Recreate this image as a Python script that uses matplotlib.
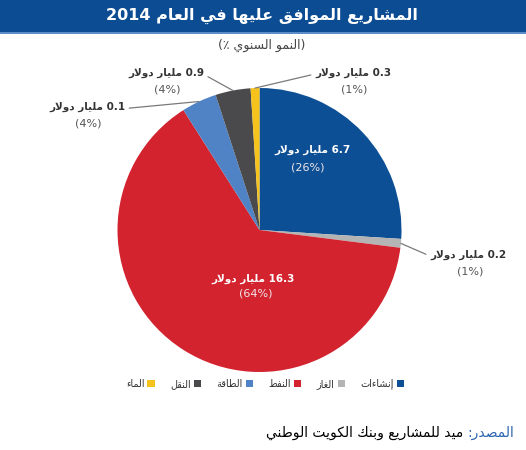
import re
import numpy as np
import matplotlib
matplotlib.use('Agg')
import matplotlib.pyplot as plt
from matplotlib.patches import Patch, Rectangle

# ---- data ----
sectors = ['إنشاءات', 'الغاز', 'النفط', 'الطاقة', 'النقل', 'الماء']
value_bn = ['6.7', '0.2', '16.3', '0.1', '0.9', '0.3']
share_pct = [26, 1, 64, 4, 4, 1]
colors = ['#0d4f94', '#b4b4b4', '#d2232f', '#4f83c6', '#4a4a4c', '#f6c21c']

title = 'المشاريع الموافق عليها في العام 2014'
subtitle = '(النمو السنوي ٪)'
unit = 'مليار دولار'
source_head = 'المصدر:'
source_body = 'ميد للمشاريع وبنك الكويت الوطني'

# ---- minimal arabic shaping + rtl ordering (matplotlib does no shaping) ----
AR_FORMS = {
    'ء': (0xFE80, 1), 'آ': (0xFE81, 2), 'أ': (0xFE83, 2), 'ؤ': (0xFE85, 2),
    'إ': (0xFE87, 2), 'ئ': (0xFE89, 4), 'ا': (0xFE8D, 2), 'ب': (0xFE8F, 4),
    'ة': (0xFE93, 2), 'ت': (0xFE95, 4), 'ث': (0xFE99, 4), 'ج': (0xFE9D, 4),
    'ح': (0xFEA1, 4), 'خ': (0xFEA5, 4), 'د': (0xFEA9, 2), 'ذ': (0xFEAB, 2),
    'ر': (0xFEAD, 2), 'ز': (0xFEAF, 2), 'س': (0xFEB1, 4), 'ش': (0xFEB5, 4),
    'ص': (0xFEB9, 4), 'ض': (0xFEBD, 4), 'ط': (0xFEC1, 4), 'ظ': (0xFEC5, 4),
    'ع': (0xFEC9, 4), 'غ': (0xFECD, 4), 'ف': (0xFED1, 4), 'ق': (0xFED5, 4),
    'ك': (0xFED9, 4), 'ل': (0xFEDD, 4), 'م': (0xFEE1, 4), 'ن': (0xFEE5, 4),
    'ه': (0xFEE9, 4), 'و': (0xFEED, 2), 'ى': (0xFEEF, 2), 'ي': (0xFEF1, 4),
}
LAM_ALEF = {'ا': 0xFEFB, 'أ': 0xFEF7, 'إ': 0xFEF9, 'آ': 0xFEF5}


def shape(s):
    items = []
    i = 0
    while i < len(s):
        if s[i] == 'ل' and i + 1 < len(s) and s[i + 1] in LAM_ALEF:
            items.append(('LA', s[i + 1]))
            i += 2
        else:
            items.append(('C', s[i]))
            i += 1

    def joins_next(it):
        return it[0] == 'C' and it[1] in AR_FORMS and AR_FORMS[it[1]][1] == 4

    def is_ar(it):
        return it[0] == 'LA' or (it[1] in AR_FORMS and AR_FORMS[it[1]][1] > 1)

    out = []
    for k, it in enumerate(items):
        pj = k > 0 and joins_next(items[k - 1]) and is_ar(it)
        nj = k + 1 < len(items) and joins_next(it) and is_ar(items[k + 1])
        if it[0] == 'LA':
            out.append(chr(LAM_ALEF[it[1]] + pj))
        elif it[1] in AR_FORMS:
            base, nf = AR_FORMS[it[1]]
            if nf == 1:
                off = 0
            elif nf == 2:
                off = 1 if pj else 0
            else:
                off = 3 if (pj and nj) else 1 if pj else 2 if nj else 0
            out.append(chr(base + off))
        else:
            out.append(it[1])
    return ''.join(out)


def rtl(s):
    s = shape(s)
    runs = re.findall(r'[0-9A-Za-z.,%]+|[^0-9A-Za-z.,%]+', s)
    mirror = {'(': ')', ')': '('}
    out = []
    for r in reversed(runs):
        if re.match(r'[0-9A-Za-z]', r):
            out.append(r)
        else:
            out.append(''.join(mirror.get(c, c) for c in reversed(r)))
    return ''.join(out)


plt.rcParams['font.family'] = ['DejaVu Sans']

W, H = 526, 450
fig = plt.figure(figsize=(W / 100, H / 100), dpi=100)
ax = fig.add_axes([0, 0, 1, 1])

def Y(y):
    return H - y

# title banner
ax.add_patch(Rectangle((0, Y(32)), W, 32, color='#0b4c92', lw=0))
ax.add_patch(Rectangle((0, Y(33.5)), W, 1.5, color='#5b8cc6', lw=0))
ax.text(262, Y(16), rtl(title), color='white', fontsize=11.5, fontweight='bold',
        ha='center', va='center')
ax.text(262, Y(45), rtl(subtitle), color='#444444', fontsize=9,
        ha='center', va='center')

# pie
cx, cy, R = 259.5, Y(230), 142
wedges, _ = ax.pie(share_pct, colors=colors, startangle=90, counterclock=False,
                   center=(cx, cy), radius=R, wedgeprops=dict(linewidth=0))
ax.set_xlim(0, W)
ax.set_ylim(0, H)
ax.set_aspect('equal')
ax.axis('off')

# inside labels (construction, oil)
inside = {0: (313, 150, 308, 167), 2: (253, 279, 256, 294)}
for i, (x1, y1, x2, y2) in inside.items():
    ax.text(x1, Y(y1), rtl(value_bn[i] + ' ' + unit), color='white', fontsize=7.5,
            fontweight='bold', ha='center', va='center')
    ax.text(x2, Y(y2), '(%d%%)' % share_pct[i], color='#f0e6ea', fontsize=8,
            ha='center', va='center')

# outside labels with leader lines: (label x, y, pct x, y, relpos)
outside = {
    1: (468, 255, 470, 271, (0, 0.4)),
    3: (87, 107, 88, 124, (1, 0.35)),
    4: (166, 73, 167, 89, (1, 0.35)),
    5: (353, 73, 354, 89, (0, 0.4)),
}
for i, (x1, y1, x2, y2, rp) in outside.items():
    w = wedges[i]
    mid = np.deg2rad((w.theta1 + w.theta2) / 2)
    px, py = cx + R * np.cos(mid), cy + R * np.sin(mid)
    ax.annotate(rtl(value_bn[i] + ' ' + unit), xy=(px, py), xytext=(x1, Y(y1)),
                fontsize=7.5, fontweight='bold', color='#333333',
                ha='center', va='center',
                arrowprops=dict(arrowstyle='-', color='#7a7a7a', lw=0.9,
                                relpos=rp, shrinkA=1, shrinkB=0))
    ax.text(x2, Y(y2), '(%d%%)' % share_pct[i], color='#555555', fontsize=8,
            ha='center', va='center')

# legend, right to left
order = [5, 4, 3, 2, 1, 0]
handles = [Patch(facecolor=colors[i], edgecolor='none') for i in order]
labels = [rtl(sectors[i]) for i in order]
ax.legend(handles, labels, loc='center', bbox_to_anchor=(265 / W, 1 - 384 / H),
          bbox_transform=fig.transFigure, ncol=6, markerfirst=False, frameon=False,
          fontsize=7, handlelength=0.75, handleheight=0.75, handletextpad=0.3,
          columnspacing=1.6, labelcolor='#333333')

# source line: blue head, black body
fig.canvas.draw()
r = fig.canvas.get_renderer()
t1 = ax.text(514, Y(433), rtl(source_head), color='#2a64b0', fontsize=10,
             ha='right', va='center')
bb = t1.get_window_extent(r)
x0 = ax.transData.inverted().transform((bb.x0, bb.y0))[0]
ax.text(x0 - 4, Y(433), rtl(source_body), color='black', fontsize=10,
        ha='right', va='center')

fig.savefig('out.png', dpi=100)
